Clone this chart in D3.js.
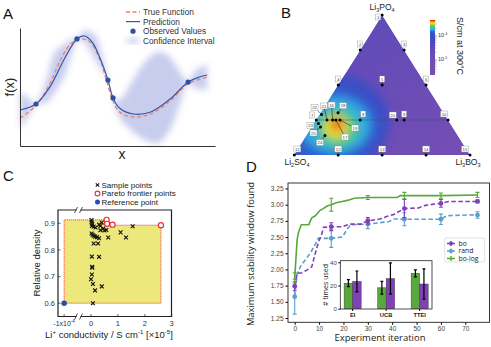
<!DOCTYPE html>
<html>
<head>
<meta charset="utf-8">
<script src="https://cdn.jsdelivr.net/npm/d3@7"></script>
<style>
  body { margin: 0; background: #fff; }
  svg { display: block; font-family: "Liberation Sans", Arial, sans-serif; }
</style>
</head>
<body>
<svg id="fig" width="491" height="347"></svg>
<script>
// ---------- panel A: gaussian process sketch ----------
const trueX = [0, 0.8, 1.5, 2.15, 2.65, 3.1, 3.6, 4.1, 4.4, 4.75, 5.1, 5.8, 6.7, 7.7, 8.6, 9.65]
const trueY = [2.37, 3.39, 5.17, 7.54, 8.73, 9.07, 8.81, 7.29, 5.76, 3.9, 2.88, 2.46, 2.71, 3.81, 5.25, 5.85]
const predX = [0, 0.82, 1.5, 2.3, 2.92, 3.3, 3.7, 4.1, 4.51, 4.77, 5.1, 5.8, 6.7, 7.7, 8.62, 9.2, 9.6]
const predY = [3.05, 3.56, 4.92, 7.46, 9.07, 9.32, 8.81, 7.46, 5.59, 4.07, 3.22, 2.71, 2.88, 3.98, 5.42, 5.85, 6.02]
const obsX = [0.82, 2.92, 4.51, 4.77, 8.62]
const obsY = [3.56, 9.07, 5.59, 4.07, 5.42]
const bandX = [0, 0.4, 0.8, 1.3, 1.8, 2.3, 2.7, 2.92, 3.3, 3.85, 4.2, 4.51, 4.77, 5.1, 5.65, 6.4, 7.1, 7.7, 8.2, 8.62, 9.0, 9.6]
const bandHi = [4.6, 4.1, 3.6, 5.3, 8.0, 8.6, 9.15, 9.1, 9.8, 9.4, 7.7, 5.7, 4.15, 3.9, 5.2, 7.1, 8.0, 7.5, 6.3, 5.5, 6.4, 6.9]
const bandLo = [1.5, 2.4, 3.5, 3.6, 4.6, 6.0, 8.1, 9.0, 8.8, 7.3, 6.4, 5.5, 4.0, 2.4, 1.4, 0.5, 0.25, 1.4, 3.5, 5.35, 4.9, 4.75]
const legendA = ["True Function", "Prediction", "Observed Values", "Confidence Interval"]

// ---------- panel B: ternary map ----------
// [label, Li3PO4 fraction, Li3BO3 fraction]  (Li2SO4 = rest)
const ternPoints = [
  ["1", 1, 0], ["2", 0.75, 0], ["3", 0.75, 0.25], ["4", 0.5, 0], ["5", 0.5, 0.25], ["6", 0.5, 0.5],
  ["7", 0.25, 0], ["8", 0.25, 0.25], ["9", 0.25, 0.5], ["10", 0.25, 0.75],
  ["11", 0, 0], ["12", 0, 0.25], ["13", 0, 0.5], ["14", 0, 0.75], ["15", 0, 1],
  ["16", 0.25, 0.093], ["17", 0.25, 0.112], ["18", 0.302, 0.098], ["19", 0.25, 0.135],
  ["20", 0.25, 0.458], ["21", 0.25, 0.061], ["22", 0.29, 0.01], ["23", 0.225, 0.025],
  ["24", 0.139, 0.105], ["25", 0.2, 0.049]
]
// conductivity contour levels: [p, b, half-width in b, half-width in p, log10 S/cm]
const condLevels = [
  [0.236, 0.057, 0.37, 0.36, -4.1],
  [0.214, 0.09, 0.28, 0.27, -3.9],
  [0.214, 0.125, 0.2, 0.2, -3.77],
  [0.193, 0.152, 0.12, 0.14, -3.66],
  [0.2, 0.137, 0.07, 0.085, -3.52],
  [0.214, 0.136, 0.04, 0.05, -3.45],
  [0.229, 0.129, 0.028, 0.03, -3.38]
]
const cbarDomain = [-5.67, -3.375]
const cbarStops = [-5.67, -4.8, -4.3, -3.95, -3.85, -3.75, -3.67, -3.6, -3.55, -3.5, -3.45, -3.38]
const cbarColors = ["#7a4fb0", "#6a4cb8", "#4c48c0", "#3150c8", "#2b70d8", "#32b8e2", "#44c890",
                    "#74c842", "#c8e030", "#f6e020", "#f69020", "#e62010"]

// ---------- panel C: pareto ----------
const sampleX = [0.02, 0.02, 0.05, 0.03, 0.1, 0.17, 0.3, 0.4, 0.35, 0.45, 0.35, 0.5, 0.57, 0.02, 0.06, 0.1, 0.15,
                 0.22, 0.3, 0.64, 1.1, 1.3, 1.55, 0.1, 0.26, 0.03, 0.3, 0.04, 0.05, 0.03, 0.0, 0.07, 0.4, 0.15, 0.07]
const sampleY = [0.912, 0.905, 0.897, 0.89, 0.888, 0.884, 0.895, 0.903, 0.89, 0.88, 0.874, 0.873, 0.875, 0.862,
                 0.857, 0.853, 0.85, 0.848, 0.844, 0.847, 0.866, 0.847, 0.889, 0.824, 0.824, 0.775, 0.774,
                 0.737, 0.733, 0.708, 0.69, 0.672, 0.663, 0.648, 0.6]
const paretoX = [0.58, 0.6, 0.8, 2.6]
const paretoY = [0.913, 0.898, 0.895, 0.893]
const refPoint = [-1, 0.6]      // drawn on the broken part of the axis (-1x10^-4)
const cTicksX = [0, 1, 2, 3]
const cTicksY = [0.6, 0.7, 0.8, 0.9]
const legendC = ["Sample points", "Pareto frontier points", "Reference point"]

// ---------- panel D: stability window ----------
const boLogX = [0, 1, 1.6, 2.7, 5.8, 6.4, 7.1, 8.2, 9.2, 10.3, 11.7, 13.3, 15, 17, 19.5, 22, 24.4, 30, 42, 43.4, 60, 75]
const boLogY = [1.87, 2.46, 2.58, 2.69, 2.69, 2.75, 2.8, 2.82, 2.86, 2.91, 2.94, 2.98, 3.0, 3.03, 3.05, 3.07, 3.1, 3.11, 3.11, 3.14, 3.14, 3.15]
const boX = [0, 1, 3, 5, 7, 8.8, 10.1, 10.9, 11.8, 15, 19.5, 22.5, 27, 30, 35, 38, 40.7, 45, 50.8, 53.6, 59.8, 63.2, 75]
const boY = [1.74, 1.94, 1.95, 1.99, 2.04, 2.3, 2.46, 2.52, 2.65, 2.66, 2.66, 2.7, 2.7, 2.75, 2.78, 2.82, 2.85, 2.94, 2.95, 2.99, 3.02, 3.05, 3.05]
const randX = [0, 1, 2.7, 4.4, 6.4, 8.6, 9.6, 15, 19.5, 22, 23, 30, 38.8, 40.7, 45, 60, 62.3, 75]
const randY = [1.58, 1.93, 2.07, 2.15, 2.25, 2.4, 2.48, 2.48, 2.5, 2.645, 2.69, 2.7, 2.74, 2.78, 2.775, 2.775, 2.83, 2.845]
const errIters = [0, 15, 30, 45, 60, 75]
const boLogMean = [1.87, 3.0, 3.11, 3.14, 3.14, 3.15]
const boLogErr = [0.08, 0.1, 0.03, 0.05, 0.04, 0.04]
const boMean = [1.74, 2.66, 2.75, 2.94, 3.02, 3.05]
const boErr = [0.07, 0.06, 0.05, 0.14, 0.06, 0.02]
const randMean = [1.58, 2.48, 2.7, 2.775, 2.775, 2.84]
const randErr = [0.27, 0.14, 0.07, 0.1, 0.08, 0.05]
const acqNames = ["EI", "UCB", "TTEI"]
const acqBoLog = [22, 18, 30.5]
const acqBoLogErr = [3, 5.5, 3]
const acqBo = [23.5, 26, 21.3]
const acqBoErr = [9, 13.5, 13]

const svg = d3.select("#fig")
const defs = svg.append("defs")

function rich(t, parts, fs) {
  let shift = 0
  parts.forEach(([s, k]) => {
    const target = k === "sup" ? -0.38 * fs : k === "sub" ? 0.28 * fs : 0
    t.append("tspan").attr("dy", target - shift).attr("font-size", k ? fs * 0.65 : fs).text(s)
    shift = target
  })
  return t
}

function panelLetter(x, y, s) {
  svg.append("text").attr("x", x).attr("y", y).attr("font-size", 15).attr("fill", "#111").text(s)
}

// =================== A ===================
;(function () {
  defs.append("filter").attr("id", "blurA").attr("x", "-30%").attr("y", "-30%").attr("width", "160%").attr("height", "160%")
    .append("feGaussianBlur").attr("stdDeviation", 3)
  const x = d3.scaleLinear().domain([0, 10]).range([20, 215])
  const y = d3.scaleLinear().domain([0, 10]).range([146, 28])
  const g = svg.append("g")

  g.append("path").datum(d3.range(bandX.length))
    .attr("d", d3.area().x(i => x(bandX[i])).y0(i => y(bandLo[i])).y1(i => y(bandHi[i])).curve(d3.curveCatmullRom))
    .attr("fill", "#c0c5ea").attr("opacity", 0.85).attr("filter", "url(#blurA)")

  g.append("path").datum(d3.range(trueX.length))
    .attr("d", d3.line().x(i => x(trueX[i])).y(i => y(trueY[i])).curve(d3.curveCatmullRom))
    .attr("fill", "none").attr("stroke", "#f2805e").attr("stroke-width", 1.3).attr("stroke-dasharray", "4,2.5")
  g.append("path").datum(d3.range(predX.length))
    .attr("d", d3.line().x(i => x(predX[i])).y(i => y(predY[i])).curve(d3.curveCatmullRom))
    .attr("fill", "none").attr("stroke", "#3556ac").attr("stroke-width", 1.2)
  g.selectAll(".obs").data(d3.range(obsX.length)).join("circle")
    .attr("cx", i => x(obsX[i])).attr("cy", i => y(obsY[i])).attr("r", 2.6).attr("fill", "#2c52a6")

  g.append("g").attr("transform", "translate(20,0)")
    .call(d3.axisLeft(y).tickValues([]).tickSizeOuter(0))
    .select(".domain").attr("stroke", "#333")
  g.append("g").attr("transform", "translate(0,146)")
    .call(d3.axisBottom(x).tickValues([]).tickSizeOuter(0))
    .select(".domain").attr("stroke", "#333")

  g.append("text").attr("transform", "translate(14,87) rotate(-90)").attr("text-anchor", "middle")
    .attr("font-size", 13).attr("fill", "#222").text("f(x)")
  g.append("text").attr("x", 122).attr("y", 159).attr("text-anchor", "middle")
    .attr("font-size", 14).attr("fill", "#222").text("x")

  // legend
  const lg = g.append("g").attr("font-size", 8.3).attr("fill", "#333")
  legendA.forEach((s, i) => {
    const yy = 12 + i * 9.6
    lg.append("text").attr("x", 143).attr("y", yy + 3).text(s)
    if (i === 0) lg.append("line").attr("x1", 126).attr("x2", 140).attr("y1", yy).attr("y2", yy)
      .attr("stroke", "#f2805e").attr("stroke-width", 1.3).attr("stroke-dasharray", "4,2.5")
    if (i === 1) lg.append("line").attr("x1", 126).attr("x2", 140).attr("y1", yy).attr("y2", yy)
      .attr("stroke", "#3556ac").attr("stroke-width", 1.2)
    if (i === 2) lg.append("circle").attr("cx", 133).attr("cy", yy).attr("r", 2.6).attr("fill", "#2c52a6")
    if (i === 3) lg.append("ellipse").attr("cx", 133).attr("cy", yy).attr("rx", 7).attr("ry", 2.5)
      .attr("fill", "#c0c5ea").attr("filter", "url(#blurA)")
  })
  panelLetter(3, 19, "A")
})()

// =================== B ===================
;(function () {
  const bS = d3.scaleLinear().domain([0, 1]).range([0, 175.7])
  const pS = d3.scaleLinear().domain([0, 1]).range([155, 15])
  const tx = (p, b) => 294.3 + bS(b) + bS(p) / 2
  const color = d3.scaleLinear().domain(cbarStops).range(cbarColors).clamp(true)
  const g = svg.append("g")

  const tri = [[tx(1, 0), pS(1)], [tx(0, 0), pS(0)], [tx(0, 1), pS(0)]]
  defs.append("clipPath").attr("id", "triClip").append("polygon").attr("points", tri.join(" "))
  const grad = defs.append("linearGradient").attr("id", "triBase").attr("x1", 0).attr("y1", 0).attr("x2", 1).attr("y2", 1)
  grad.append("stop").attr("offset", 0).attr("stop-color", color(-4.55))
  grad.append("stop").attr("offset", 1).attr("stop-color", color(-5.4))
  defs.append("filter").attr("id", "blurB").attr("x", "-50%").attr("y", "-50%").attr("width", "200%").attr("height", "200%")
    .append("feGaussianBlur").attr("stdDeviation", 4.5)

  const clip = g.append("g").attr("clip-path", "url(#triClip)")
  clip.append("polygon").attr("points", tri.join(" ")).attr("fill", "url(#triBase)")
  clip.append("g").attr("filter", "url(#blurB)")
    .selectAll("ellipse").data(condLevels).join("ellipse")
    .attr("cx", d => tx(d[0], d[1])).attr("cy", d => pS(d[0]))
    .attr("rx", d => bS(d[2])).attr("ry", d => pS(0) - pS(d[3]))
    .attr("fill", d => color(d[4]))

  // dotted tie line along the 25 % Li3PO4 row
  g.append("line").attr("x1", tx(0.25, 0)).attr("x2", tx(0.25, 0.75)).attr("y1", pS(0.25)).attr("y2", pS(0.25))
    .attr("stroke", "#1f5d70").attr("stroke-width", 0.8).attr("stroke-dasharray", "1.2,1")

  const nudge = {
    "1": [-4, 2], "10": [-4, -6], "11": [3, -6], "15": [-5, -6], "7": [-4, -5], "8": [3, -6],
    "16": [-1, -15], "17": [9, 17], "18": [5, -7], "19": [15, 8], "20": [-4, -5], "21": [-3, -14],
    "22": [-7, -7], "23": [-8, 2], "24": [-5, 7], "25": [-7, 6]
  }
  ternPoints.forEach(([lab, p, b]) => {
    const px = tx(p, b), py = pS(p)
    const [dx, dy] = nudge[lab] || [0, -6]
    if (Math.abs(dx) + Math.abs(dy) > 11)
      g.append("line").attr("x1", px).attr("y1", py).attr("x2", px + dx).attr("y2", py + dy)
        .attr("stroke", "#111").attr("stroke-width", 0.5)
    g.append("circle").attr("cx", px).attr("cy", py).attr("r", 1.5).attr("fill", "#000")
    const w = lab.length > 1 ? 7 : 5
    g.append("rect").attr("x", px + dx - w / 2).attr("y", py + dy - 3).attr("width", w).attr("height", 6)
      .attr("fill", "#fff").attr("stroke", "#8a8a8a").attr("stroke-width", 0.4)
    g.append("text").attr("x", px + dx).attr("y", py + dy + 1.6).attr("text-anchor", "middle")
      .attr("font-size", 4.3).attr("fill", "#444").text(lab)
  })

  // vertex names
  rich(g.append("text").attr("x", tx(1, 0)).attr("y", 10).attr("text-anchor", "middle").attr("fill", "#222"),
    [["Li", null], ["3", "sub"], ["PO", null], ["4", "sub"]], 8.5)
  rich(g.append("text").attr("x", 297).attr("y", 165).attr("text-anchor", "middle").attr("fill", "#222"),
    [["Li", null], ["2", "sub"], ["SO", null], ["4", "sub"]], 8.5)
  rich(g.append("text").attr("x", 468).attr("y", 165).attr("text-anchor", "middle").attr("fill", "#222"),
    [["Li", null], ["3", "sub"], ["BO", null], ["3", "sub"]], 8.5)

  // colour bar
  const cb = d3.scaleLinear().domain(cbarDomain).range([75, 20])
  const cg = defs.append("linearGradient").attr("id", "cbar").attr("x1", 0).attr("y1", 1).attr("x2", 0).attr("y2", 0)
  cbarStops.forEach((v, i) => cg.append("stop")
    .attr("offset", (v - cbarDomain[0]) / (cbarDomain[1] - cbarDomain[0])).attr("stop-color", cbarColors[i]))
  g.append("rect").attr("x", 430).attr("y", 20).attr("width", 5).attr("height", 55).attr("fill", "url(#cbar)")
  const minor = []
  ;[-6, -5, -4].forEach(e => d3.range(1, 10).forEach(k => {
    const v = e + Math.log10(k)
    if (v >= cbarDomain[0] && v <= cbarDomain[1]) minor.push(v)
  }))
  g.append("g").attr("transform", "translate(435,0)")
    .call(d3.axisRight(cb).tickValues(minor).tickSize(1.5).tickFormat(""))
    .call(a => a.select(".domain").remove())
    .selectAll("line").attr("stroke", "#555").attr("stroke-width", 0.4)
  ;[-4, -5].forEach(e => rich(g.append("text").attr("x", 438).attr("y", cb(e) + 2).attr("fill", "#333"),
    [["10", null], [String(e), "sup"]], 5.5))
  g.append("text").attr("transform", "translate(457,46) rotate(90)").attr("text-anchor", "middle")
    .attr("font-size", 9).attr("fill", "#222").text("S/cm at 300°C")
  panelLetter(281, 18, "B")
})()

// =================== C ===================
;(function () {
  const x = d3.scaleLinear().domain([-1.25, 3]).range([57.4, 171.7])
  const y = d3.scaleLinear().domain([0.55, 0.95]).range([316.5, 210])
  const g = svg.append("g")
  const L = 58, R = 171.5, T = 210, B = 316.5, brk = 78.5

  // dominated region (hypervolume) from the reference point to the pareto front
  const hv = [[refPoint[0], refPoint[1]], [refPoint[0], paretoY[0]]]
  paretoX.forEach((px, i) => {
    hv.push([px, paretoY[i]])
    if (i < paretoX.length - 1) hv.push([px, paretoY[i + 1]])
  })
  hv.push([paretoX[paretoX.length - 1], refPoint[1]])
  g.append("path").attr("d", d3.line().x(d => x(d[0])).y(d => y(d[1]))(hv) + "Z")
    .attr("fill", "#ece87c").attr("stroke", "#e8383a").attr("stroke-width", 1).attr("stroke-dasharray", "1,1")

  // frame with axis break
  const fr = g.append("g").attr("stroke", "#222").attr("stroke-width", 1.2).attr("fill", "none")
  fr.append("path").attr("d", `M${brk - 2},${T}H${L}V${B}H${brk - 2}M${brk + 2},${B}H${R}V${T}H${brk + 2}`)
  ;[T, B].forEach(yy => {
    fr.append("line").attr("x1", brk - 4).attr("x2", brk - 1).attr("y1", yy + 3).attr("y2", yy - 3).attr("stroke-width", 0.8)
    fr.append("line").attr("x1", brk + 1).attr("x2", brk + 4).attr("y1", yy + 3).attr("y2", yy - 3).attr("stroke-width", 0.8)
  })

  // ticks
  const tk = g.append("g").attr("font-size", 7.5).attr("fill", "#333")
  cTicksY.forEach(v => {
    tk.append("line").attr("x1", L).attr("x2", L + 2.5).attr("y1", y(v)).attr("y2", y(v)).attr("stroke", "#222").attr("stroke-width", 0.7)
    tk.append("text").attr("x", L - 3).attr("y", y(v) + 2.6).attr("text-anchor", "end").text(d3.format(".1f")(v))
  })
  cTicksX.concat([refPoint[0]]).forEach(v => {
    tk.append("line").attr("x1", x(v)).attr("x2", x(v)).attr("y1", B).attr("y2", B - 2.5).attr("stroke", "#222").attr("stroke-width", 0.7)
  })
  cTicksX.forEach(v => tk.append("text").attr("x", x(v)).attr("y", B + 9).attr("text-anchor", "middle").text(v))
  rich(tk.append("text").attr("x", x(refPoint[0])).attr("y", B + 9).attr("text-anchor", "middle"),
    [["-1x10", null], ["-4", "sup"]], 7)

  // points
  const cross = (sel, cx, cy, s) => sel.append("path")
    .attr("d", `M${cx - s},${cy - s}L${cx + s},${cy + s}M${cx - s},${cy + s}L${cx + s},${cy - s}`)
    .attr("stroke", "#111").attr("stroke-width", 1.1)
  sampleX.forEach((v, i) => cross(g, x(v), y(sampleY[i]), 1.9))
  g.selectAll(".par").data(d3.range(paretoX.length)).join("circle")
    .attr("cx", i => x(paretoX[i])).attr("cy", i => y(paretoY[i])).attr("r", 2.6)
    .attr("fill", "#fff").attr("stroke", "#e8303a").attr("stroke-width", 1.2)
  g.append("circle").attr("cx", x(refPoint[0])).attr("cy", y(refPoint[1])).attr("r", 2.8).attr("fill", "#2a4cb4")

  // legend
  const lg = g.append("g").attr("font-size", 8).attr("fill", "#222")
  legendC.forEach((s, i) => {
    const yy = 185 + i * 8.5
    lg.append("text").attr("x", 101.5).attr("y", yy + 2.8).text(s)
  })
  cross(lg, 97.5, 185, 1.7)
  lg.append("circle").attr("cx", 97.5).attr("cy", 193.5).attr("r", 2.4).attr("fill", "#fff").attr("stroke", "#e8303a").attr("stroke-width", 1.1)
  lg.append("circle").attr("cx", 97.5).attr("cy", 202).attr("r", 2.5).attr("fill", "#2a4cb4")

  g.append("text").attr("transform", "translate(40,263) rotate(-90)").attr("text-anchor", "middle")
    .attr("font-size", 9.5).attr("fill", "#222").text("Relative density")
  rich(g.append("text").attr("x", 109).attr("y", 338).attr("text-anchor", "middle").attr("fill", "#222"),
    [["Li", null], ["+", "sup"], [" conductivity / S cm", null], ["-1", "sup"], [" [×10", null], ["-5", "sup"], ["]", null]], 9.5)
  panelLetter(3, 181, "C")
})()

// =================== D ===================
;(function () {
  const x = d3.scaleLinear().domain([0, 70]).range([294.7, 465.3])
  const y = d3.scaleLinear().domain([1.25, 3.25]).range([318, 188.5])
  const g = svg.append("g").attr("font-family", "'Open Sans', 'Liberation Sans', sans-serif")
  const L = 288, R = 489.5, T = 183, B = 322.3
  const cGreen = "#58a83c", cPurple = "#8040b8", cBlue = "#5a9ed0"

  g.append("g").attr("transform", `translate(0,${B})`)
    .call(d3.axisBottom(x).tickValues(d3.range(0, 71, 10)).tickSize(2.5).tickPadding(2))
    .call(a => a.select(".domain").remove())
    .call(a => a.selectAll("text").attr("font-size", 6.5).attr("fill", "#444").attr("font-family", null))
  g.append("g").attr("transform", `translate(${L},0)`)
    .call(d3.axisLeft(y).tickValues(d3.range(1.25, 3.26, 0.25)).tickFormat(d3.format(".2f")).tickSize(2.5).tickPadding(2))
    .call(a => a.select(".domain").remove())
    .call(a => a.selectAll("text").attr("font-size", 6.5).attr("fill", "#444").attr("font-family", null))

  const series = [
    [randX, randY, randMean, randErr, cBlue, "4.5,2.5"],
    [boX, boY, boMean, boErr, cPurple, "4.5,2.5"],
    [boLogX, boLogY, boLogMean, boLogErr, cGreen, null]
  ]
  series.forEach(([xs, ys, m, e, col, dash]) => {
    g.append("path").datum(d3.range(xs.length))
      .attr("d", d3.line().x(i => x(xs[i])).y(i => y(ys[i])))
      .attr("fill", "none").attr("stroke", col).attr("stroke-width", 1.6).attr("stroke-dasharray", dash)
    errIters.forEach((it, i) => {
      const cx = x(it)
      g.append("path").attr("d", `M${cx},${y(m[i] - e[i])}V${y(m[i] + e[i])}M${cx - 2},${y(m[i] - e[i])}h4M${cx - 2},${y(m[i] + e[i])}h4`)
        .attr("stroke", col).attr("stroke-width", 1.1).attr("fill", "none")
      if (col !== cGreen) g.append("circle").attr("cx", cx).attr("cy", y(m[i])).attr("r", 2.4).attr("fill", col)
    })
  })

  g.append("rect").attr("x", L).attr("y", T).attr("width", R - L).attr("height", B - T)
    .attr("fill", "none").attr("stroke", "#222").attr("stroke-width", 0.9)

  // inset: acquisition function usage
  const iy = d3.scaleLinear().domain([0, 40]).range([308.7, 262.3])
  const ix = d3.scaleBand().domain(acqNames).range([340.3, 432]).paddingInner(0.49).paddingOuter(0.113)
  const sub = d3.scaleBand().domain([0, 1]).range([0, ix.bandwidth()])
  const ig = g.append("g")
  ig.append("rect").attr("x", 340.3).attr("y", 260.7).attr("width", 91.7).attr("height", 48.3).attr("fill", "#fff")
  ;[[acqBoLog, acqBoLogErr, cGreen], [acqBo, acqBoErr, cPurple]].forEach(([vals, errs, col], k) => {
    acqNames.forEach((n, i) => {
      const bx = ix(n) + sub(k)
      ig.append("rect").attr("x", bx).attr("y", iy(vals[i])).attr("width", sub.bandwidth())
        .attr("height", iy(0) - iy(vals[i])).attr("fill", col).attr("stroke", "#333").attr("stroke-width", 0.4)
      const cx = bx + sub.bandwidth() / 2
      ig.append("path").attr("d", `M${cx},${iy(vals[i] - errs[i])}V${iy(vals[i] + errs[i])}M${cx - 1.5},${iy(vals[i] - errs[i])}h3M${cx - 1.5},${iy(vals[i] + errs[i])}h3`)
        .attr("stroke", "#000").attr("stroke-width", 1.2).attr("fill", "none")
    })
  })
  ig.append("rect").attr("x", 340.3).attr("y", 260.7).attr("width", 91.7).attr("height", 48.3)
    .attr("fill", "none").attr("stroke", "#222").attr("stroke-width", 0.8)
  ig.append("g").attr("transform", "translate(340.3,0)")
    .call(d3.axisLeft(iy).tickValues([0, 20, 40]).tickSize(2).tickPadding(1.5))
    .call(a => a.select(".domain").remove())
    .call(a => a.selectAll("text").attr("font-size", 6).attr("fill", "#444").attr("font-family", null))
  ig.append("g").attr("transform", "translate(0,309)")
    .call(d3.axisBottom(ix).tickSize(2).tickPadding(2))
    .call(a => a.select(".domain").remove())
    .call(a => a.selectAll("text").attr("font-size", 5.8).attr("font-weight", "bold").attr("fill", "#222").attr("font-family", null))
  ig.append("text").attr("transform", "translate(327.5,285) rotate(-90)").attr("text-anchor", "middle")
    .attr("font-size", 7).attr("fill", "#222").text("# times used")

  // legend
  const lg = g.append("g")
  lg.append("rect").attr("x", 444.7).attr("y", 238).attr("width", 40).attr("height", 24).attr("rx", 1.5)
    .attr("fill", "#fff").attr("stroke", "#ccc").attr("stroke-width", 0.6)
  ;[["bo", cPurple, true], ["rand", cBlue, true], ["bo-log", cGreen, false]].forEach(([s, col, dot], i) => {
    const yy = 243.5 + i * 7.5
    lg.append("path").attr("d", `M447,${yy}h8M451,${yy - 2.5}v5`).attr("stroke", col).attr("stroke-width", 1.4)
    if (dot) lg.append("circle").attr("cx", 451).attr("cy", yy).attr("r", 2).attr("fill", col)
    lg.append("text").attr("x", 458.5).attr("y", yy + 2.3).attr("font-size", 6.8).attr("fill", "#222").text(s)
  })

  g.append("text").attr("transform", "translate(254,254) rotate(-90)").attr("text-anchor", "middle")
    .attr("font-size", 9.3).attr("fill", "#222").text("Maximum stability window found")
  g.append("text").attr("x", 380).attr("y", 341).attr("text-anchor", "middle")
    .attr("font-size", 9.5).attr("fill", "#222").text("Experiment iteration")
  panelLetter(246, 172, "D")
})()
</script>
</body>
</html>
